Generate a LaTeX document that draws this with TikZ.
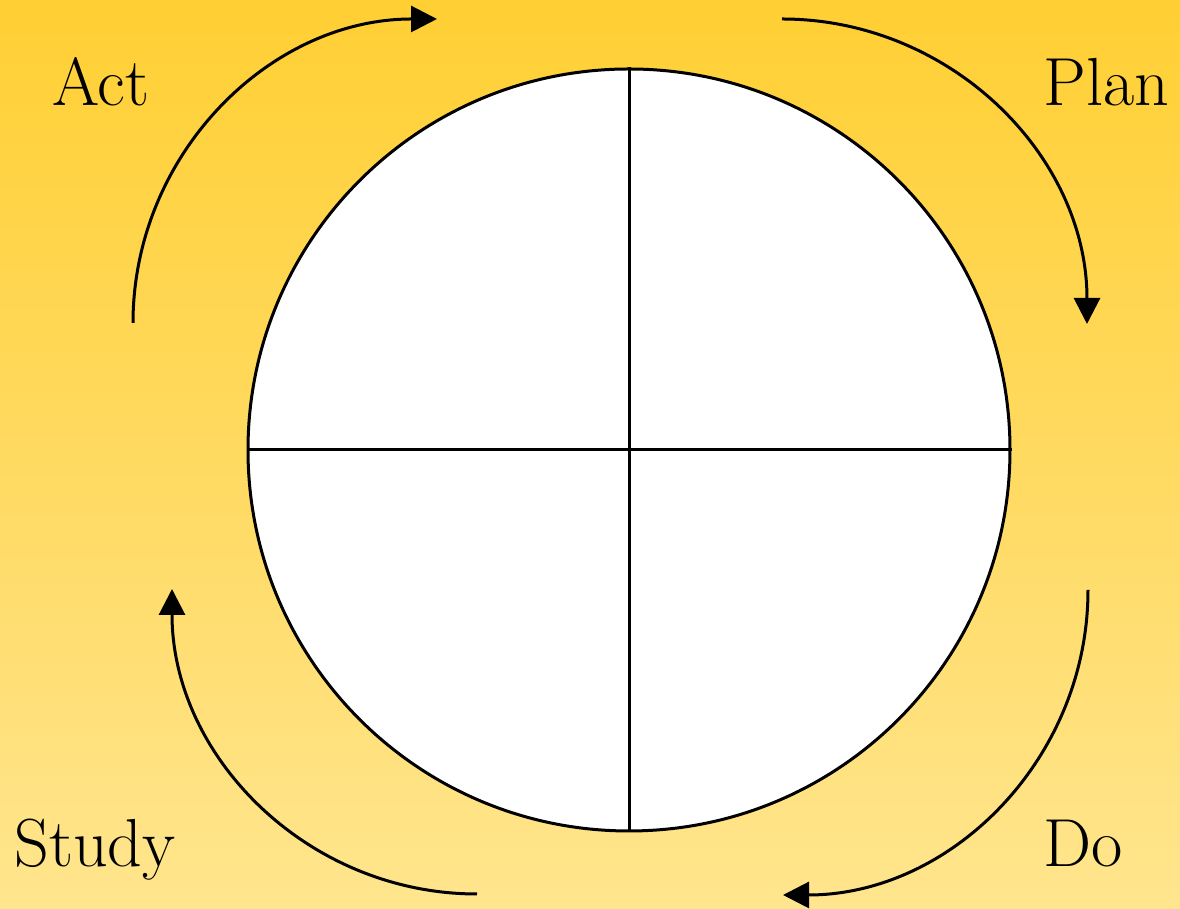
\documentclass[tikz,border=0pt]{standalone}
\usepackage{tikz}
\usetikzlibrary{arrows.meta, positioning}
\definecolor{goldtop}{RGB}{255, 207, 51}
\definecolor{goldbot}{RGB}{255, 229, 142}

\begin{document}
\begin{tikzpicture}[
    x=0.5pt, y=0.5pt,
    wheel/.style={circle, draw=black, fill=white, line width=1.5pt, minimum size=381pt, inner sep=0pt},
    cycarrow/.style={line width=1.5pt, -{Triangle[length=13pt, width=13pt]}},
    steplbl/.style={font=\fontsize{34}{40}\selectfont, anchor=base west, inner sep=0pt}
  ]

  % Background
  \shade[top color=goldtop, bottom color=goldbot] (0, 0) rectangle (1180, 909);
  \useasboundingbox (0, 0) rectangle (1180, 909);

  % Wheel split in quarters
  \node[wheel] (wheel) at (629, 459) {};
  \draw[line width=1.5pt] (wheel.north) -- (wheel.south);
  \draw[line width=1.5pt] (wheel.west) -- (wheel.east);

  % Labels
  \node[steplbl] (act) at (52, 803) {Act};
  \node[steplbl] (plan) at (1043, 803) {Plan};
  \node[steplbl] (do) at (1043, 42) {Do};
  \node[steplbl] (study) at (14, 42) {Study};

  % Cycle arrows
  \coordinate (actstart) at (133, 586);
  \coordinate (planstart) at (782, 890);
  \coordinate (dostart) at (1088, 319);
  \coordinate (studystart) at (477, 15);
  \draw[cycarrow] (actstart) arc[start angle=180, end angle=90, radius=304];
  \draw[cycarrow] (planstart) arc[start angle=90, end angle=0, radius=305];
  \draw[cycarrow] (dostart) arc[start angle=0, end angle=-90, radius=305];
  \draw[cycarrow] (studystart) arc[start angle=270, end angle=180, radius=305];

\end{tikzpicture}
\end{document}
